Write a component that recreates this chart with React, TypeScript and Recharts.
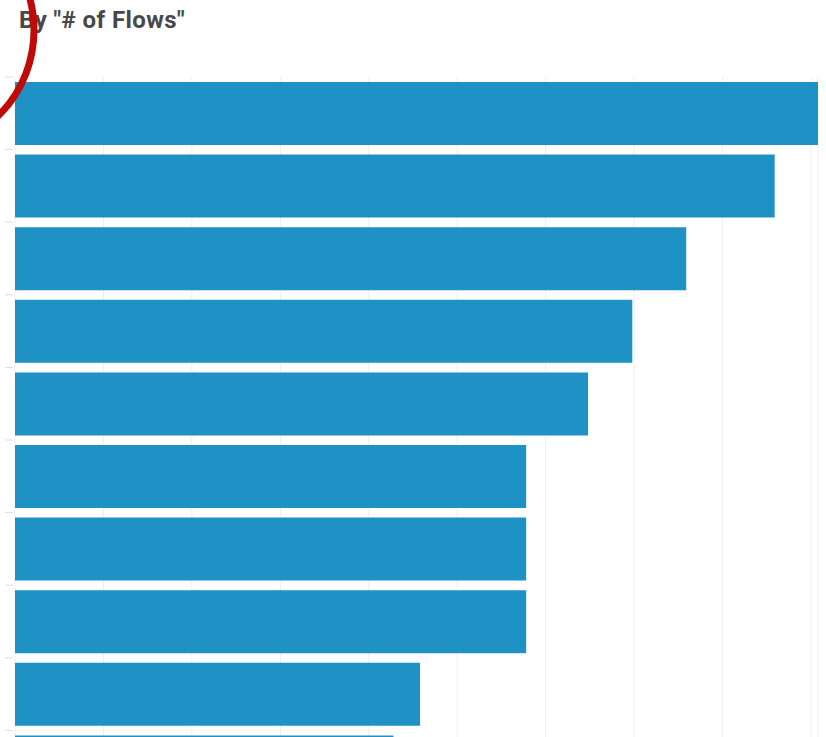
import { BarChart, Bar, XAxis, YAxis, CartesianGrid } from 'recharts'

// category names are not visible in the source, only the bars
const categories = ['Item 1', 'Item 2', 'Item 3', 'Item 4', 'Item 5', 'Item 6', 'Item 7', 'Item 8', 'Item 9', 'Item 10']
const flows = [90.8, 85.9, 75.9, 69.8, 64.8, 57.8, 57.8, 57.8, 45.8, 42.8]
const xTicks = [0, 10, 20, 30, 40, 50, 60, 70, 80, 90]

const data = categories.map((name, i) => ({ name, flows: flows[i] }))

const CHART_W = 826
const CHART_H = 807
const MARGIN = { top: 77, right: 8, left: 0, bottom: 4 }
const BAND = (CHART_H - MARGIN.top - MARGIN.bottom) / categories.length

// tick marks sit on the band boundaries, not centres
function BoundaryTick(props: any) {
  const { y } = props
  const yy = y - BAND / 2
  return <line x1={5} x2={13} y1={yy} y2={yy} stroke="#ead8d2" strokeWidth={1} />
}

export default function App() {
  return (
    <div
      style={{
        position: 'absolute',
        left: 0,
        top: 0,
        width: CHART_W,
        height: 737,
        overflow: 'hidden',
        background: '#fff',
      }}
    >
      <div
        style={{
          position: 'absolute',
          left: 19,
          top: 6,
          fontFamily: 'Roboto, sans-serif',
          fontWeight: 700,
          fontSize: 24,
          color: '#484848',
          letterSpacing: 0.4,
        }}
      >
        By "# of Flows"
      </div>
      <BarChart
        width={CHART_W}
        height={CHART_H}
        data={data}
        layout="vertical"
        margin={MARGIN}
        barCategoryGap={5}
      >
        <CartesianGrid horizontal={false} stroke="#eeeeee" />
        <XAxis type="number" hide domain={[0, 90.8]} ticks={xTicks} />
        <YAxis
          type="category"
          dataKey="name"
          width={15}
          axisLine={false}
          tickLine={false}
          tick={<BoundaryTick />}
          interval={0}
        />
        <Bar dataKey="flows" fill="#1f92c5" isAnimationActive={false} />
      </BarChart>
      <svg
        width={CHART_W}
        height={737}
        style={{ position: 'absolute', left: 0, top: 0, pointerEvents: 'none' }}
      >
        <ellipse cx={-80} cy={30} rx={114} ry={118} fill="none" stroke="#c00a0a" strokeWidth={7} />
      </svg>
    </div>
  )
}
